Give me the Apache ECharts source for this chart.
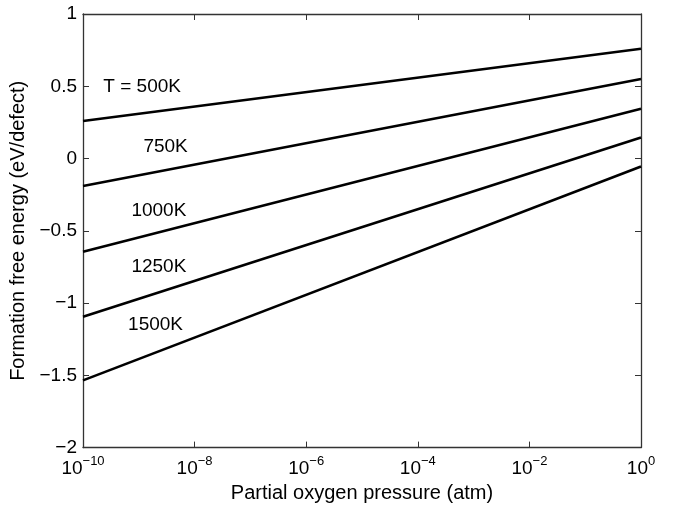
<!DOCTYPE html>
<html><head><meta charset="utf-8">
<script src="https://cdn.jsdelivr.net/npm/echarts@6/dist/echarts.min.js"></script>
<style>html,body{margin:0;padding:0;background:#fff}#c{width:680px;height:508px}</style>
</head><body><div id="c"></div>
<script>
// Data
const pressures = [1e-10, 1];
const temps = ['T = 500K', '750K', '1000K', '1250K', '1500K'];
const energy500 = [0.26, 0.76];
const energy750 = [-0.19, 0.55];
const energy1000 = [-0.645, 0.345];
const energy1250 = [-1.095, 0.145];
const energy1500 = [-1.535, -0.055];
const labelX = [10 ** -8.94, 10 ** -8.52, 10 ** -8.64, 10 ** -8.64, 10 ** -8.70];
const labelY = [0.494, 0.082, -0.358, -0.75, -1.148];
const yTicks = [-2, -1.5, -1, -0.5, 0, 0.5, 1];

const allEnergy = [energy500, energy750, energy1000, energy1250, energy1500];
const FONT = 'Liberation Sans';
const FS = 19;
const AX = '#333';
const chart = echarts.init(document.getElementById('c'));
const series = allEnergy.map((vals) => ({
  type: 'line',
  data: pressures.map((p, j) => [p, vals[j]]),
  symbol: 'none',
  lineStyle: { color: '#000', width: 2.6 },
  silent: true
}));
const fmtNum = v => String(v).replace('-', '\u2212');
const axisBase = {
  axisLine: { show: true, onZero: false, lineStyle: { color: AX, width: 1.3 } },
  axisTick: { show: true, inside: true, length: 6, lineStyle: { color: AX, width: 1 } },
  splitLine: { show: false }
};
chart.setOption({
  animation: false,
  backgroundColor: '#fff',
  grid: { left: 83, right: 39, top: 14, bottom: 55, containLabel: false },
  xAxis: [Object.assign({
    type: 'log', logBase: 10, min: 1e-10, max: 1, interval: 2,
    name: 'Partial oxygen pressure (atm)', nameLocation: 'middle', nameGap: 28,
    nameTextStyle: { color: '#000', fontSize: 20, fontFamily: FONT },
    minorTick: { show: false },
    axisLabel: {
      margin: 7, color: '#000', fontFamily: FONT,
      formatter: v => '{b|10}{s|' + fmtNum(Math.round(Math.log10(v))) + '}',
      rich: {
        b: { fontSize: FS, fontFamily: FONT, color: '#000', padding: [0, 0, 0, 0] },
        s: { fontSize: 13, fontFamily: FONT, color: '#000', padding: [0, 0, 15, 0] }
      }
    }
  }, axisBase), Object.assign({
    type: 'log', logBase: 10, min: 1e-10, max: 1, interval: 2, position: 'top',
    axisLabel: { show: false }
  }, axisBase)],
  yAxis: [Object.assign({
    type: 'value', min: -2, max: 1, interval: 0.5,
    name: 'Formation free energy (eV/defect)', nameLocation: 'middle', nameGap: 52,
    nameTextStyle: { color: '#000', fontSize: 20, fontFamily: FONT },
    axisLabel: { margin: 6, color: '#000', fontSize: FS, fontFamily: FONT,
      formatter: v => yTicks.includes(v) ? fmtNum(v) : '' }
  }, axisBase), Object.assign({
    type: 'value', min: -2, max: 1, interval: 0.5, position: 'right',
    axisLabel: { show: false }
  }, axisBase)],
  series: series
});
// Temperature annotations placed in data coordinates
const texts = temps.map((t, i) => {
  const p = chart.convertToPixel({ xAxisIndex: 0, yAxisIndex: 0 }, [labelX[i], labelY[i]]);
  return {
    type: 'text', x: p[0], y: p[1], silent: true,
    style: { text: t, fill: '#000', fontSize: FS, fontFamily: FONT, align: 'center', verticalAlign: 'middle' }
  };
});
chart.setOption({ graphic: texts });
</script></body></html>
